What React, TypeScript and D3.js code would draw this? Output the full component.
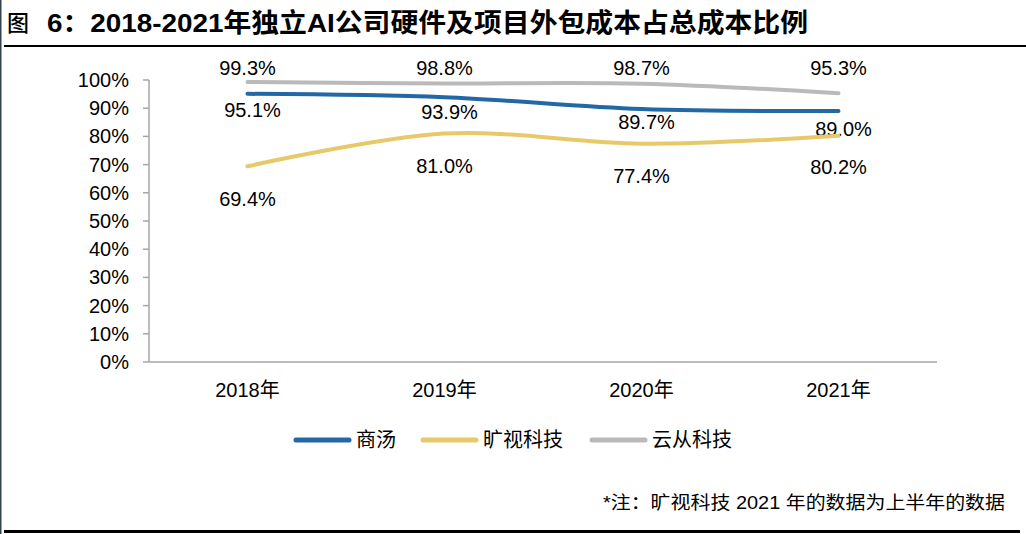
import * as d3 from "d3";

const years = ["2018年", "2019年", "2020年", "2021年"];
const sensetime = [95.1, 93.9, 89.7, 89.0];
const megvii = [69.4, 81.0, 77.4, 80.2];
const cloudwalk = [99.3, 98.8, 98.7, 95.3];
const yTicks = [0, 10, 20, 30, 40, 50, 60, 70, 80, 90, 100];

const title = "6：2018-2021年独立AI公司硬件及项目外包成本占总成本比例";
const note = "*注：旷视科技 2021 年的数据为上半年的数据";

const series = [
  { name: "商汤", values: sensetime, color: "#2268a5", dx: 5, dy: [16, 15, 13, 18] },
  { name: "旷视科技", values: megvii, color: "#e8c96a", dx: 0, dy: [33, 32, 32, 31] },
  { name: "云从科技", values: cloudwalk, color: "#bababa", dx: 0, dy: [-14, -15, -16, -25] },
];

const W = 1026;
const H = 534;
const latin = "'Liberation Sans', Arial, 'Noto Sans CJK SC', sans-serif";
const cjk = "'Noto Sans CJK SC', sans-serif";

export default function App() {
  const x = d3.scaleBand<string>().domain(years).range([149, 937]);
  const y = d3.scaleLinear().domain([0, 100]).range([362, 80]);
  const cx = (i: number) => (x(years[i]) ?? 0) + x.bandwidth() / 2;
  const line = d3
    .line<number>()
    .x((_, i) => cx(i))
    .y(d => y(d))
    .curve(d3.curveCatmullRom.alpha(0.5));

  const legendX = [296, 423, 592];

  return (
    <svg
      width={W}
      height={H}
      style={{ position: "absolute", left: 0, top: 0, background: "#fff" }}
    >
      <rect x={0} y={0} width={1.5} height={H} fill="#34444a" />
      <text x={7} y={31} fontFamily={cjk} fontSize={22} fontWeight={500} fill="#000">
        图
      </text>
      <text
        x={47}
        y={32}
        fontFamily={latin}
        fontSize={26}
        fontWeight={700}
        fill="#000"
        textLength={761}
        lengthAdjust="spacingAndGlyphs"
      >
        {title}
      </text>
      <rect x={4} y={45} width={W - 4} height={2} fill="#000" />

      {/* axes */}
      <line x1={149} x2={149} y1={y(100)} y2={y(0)} stroke="#a6a6a6" strokeWidth={1.5} />
      <line x1={149} x2={937} y1={y(0)} y2={y(0)} stroke="#a6a6a6" strokeWidth={1.5} />
      {yTicks.map(t => (
        <g key={t}>
          <line x1={143} x2={149} y1={y(t)} y2={y(t)} stroke="#a6a6a6" strokeWidth={1.5} />
          <text
            x={129}
            y={y(t)}
            dy="0.35em"
            textAnchor="end"
            fontFamily={latin}
            fontSize={20}
            fill="#000"
          >
            {t}%
          </text>
        </g>
      ))}
      {years.map((yr, i) => (
        <text
          key={yr}
          x={cx(i)}
          y={390}
          dy="0.35em"
          textAnchor="middle"
          fontFamily={latin}
          fontSize={20}
          fill="#000"
        >
          {yr}
        </text>
      ))}

      {series.map(s => (
        <g key={s.name}>
          <path
            d={line(s.values) ?? undefined}
            fill="none"
            stroke={s.color}
            strokeWidth={4}
            strokeLinecap="round"
          />
          {s.values.map((v, i) => (
            <text
              key={i}
              x={cx(i) + s.dx}
              y={y(v) + s.dy[i]}
              dy="0.35em"
              textAnchor="middle"
              fontFamily={latin}
              fontSize={20}
              fill="#000"
            >
              {v.toFixed(1)}%
            </text>
          ))}
        </g>
      ))}

      {series.map((s, i) => (
        <g key={s.name} transform={`translate(${legendX[i]},440)`}>
          <line x1={0} x2={53} y1={0} y2={0} stroke={s.color} strokeWidth={5} strokeLinecap="round" />
          <text x={60} y={0} dy="0.35em" fontFamily={cjk} fontSize={20} fill="#000">
            {s.name}
          </text>
        </g>
      ))}

      <text
        x={603}
        y={503}
        dy="0.35em"
        fontFamily={latin}
        fontSize={18}
        fill="#000"
        textLength={402}
        lengthAdjust="spacingAndGlyphs"
      >
        {note}
      </text>
      <rect x={4} y={530} width={1016} height={3} fill="#000" />
    </svg>
  );
}
